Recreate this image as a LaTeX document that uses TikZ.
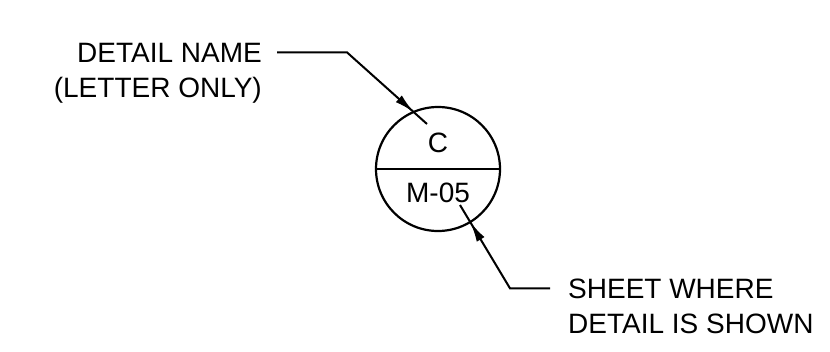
\documentclass[tikz,border=0pt]{standalone}
\usepackage{fontspec}
\setmainfont{Liberation Sans}
\usetikzlibrary{arrows.meta, positioning, decorations.markings}

\begin{document}
\begin{tikzpicture}[
    x=1pt, y=-1pt,
    lbl/.style={inner sep=0pt, font=\fontsize{28}{34}\selectfont},
    leader/.style={line width=2pt, line join=miter,
                   decoration={markings, mark=at position #1 with
                     {\arrow{Latex[length=20pt, width=9pt]}}},
                   postaction=decorate},
    bubble/.style={circle, draw, line width=2.2pt, minimum size=124pt,
                   inner sep=0pt}
  ]
  \useasboundingbox (0,0) rectangle (830,351);

  % detail bubble
  \node[bubble] (det) at (438,169) {};
  \draw[line width=2pt] (det.west) -- (det.east);
  \node[lbl] (letter) at (438,143) {C};
  \node[lbl] (sheet)  at (438,193) {M-05};

  % labels
  \node[lbl, anchor=base east] (dname) at (262,62) {DETAIL NAME};
  \node[lbl, anchor=base east] (dnote) at (262,97) {(LETTER ONLY)};
  \node[lbl, anchor=base west] (swhere) at (568,298) {SHEET WHERE};
  \node[lbl, anchor=base west] (sshown) at (568,333) {DETAIL IS SHOWN};

  \coordinate (c1) at (427,124);
  \coordinate (c2) at (460,205);

  % leaders
  \draw[leader=0.9] ([xshift=15pt]dname.east) -- ++(70,0) -- (c1);
  \draw[leader=0.855] ([xshift=-18pt]swhere.west) -- ++(-40,0) -- (c2);

\end{tikzpicture}
\end{document}
